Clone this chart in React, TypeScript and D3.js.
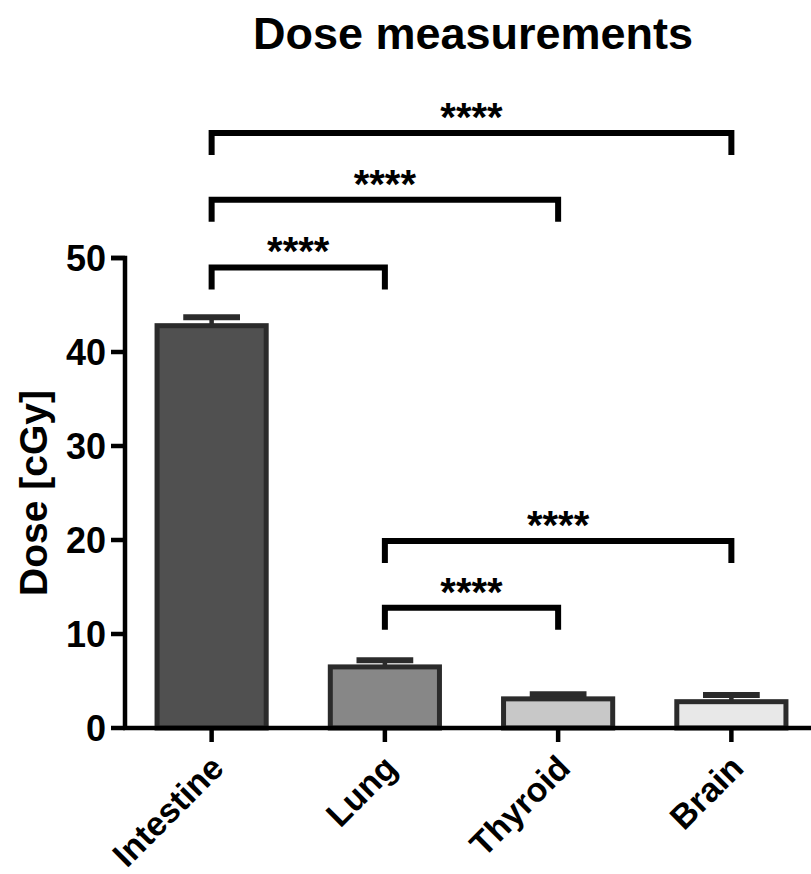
import React from 'react';
import * as d3 from 'd3';

// groups and measured values (mean + SD, cGy)
const categories = ['Intestine', 'Lung', 'Thyroid', 'Brain'];
const means = [42.8, 6.5, 3.1, 2.8];
const sds = [0.9, 0.7, 0.5, 0.7];
const yTicks = [0, 10, 20, 30, 40, 50];

// significance brackets: [from, to, level in cGy, label]
const comparisons: [string, string, number, string][] = [
  ['Intestine', 'Brain', 63.3, '****'],
  ['Intestine', 'Thyroid', 56.2, '****'],
  ['Intestine', 'Lung', 49.0, '****'],
  ['Lung', 'Brain', 19.9, '****'],
  ['Lung', 'Thyroid', 12.8, '****'],
];

const FILLS = ['#505050', '#878787', '#c8c8c8', '#e8e8e8'];
const FONT = "'Liberation Sans', Arial, Helvetica, sans-serif";

const width = 811,
  height = 874;
const MARGIN = { top: 258, left: 125, bottom: 146 };

export default function App() {
  const x = d3
    .scaleBand()
    .domain(categories)
    .range([MARGIN.left, MARGIN.left + 693])
    .paddingInner(0.37)
    .paddingOuter(0.185);
  const y = d3
    .scaleLinear()
    .domain([0, 50])
    .range([height - MARGIN.bottom, MARGIN.top]);

  const bw = x.bandwidth();
  const cx = (c: string) => (x(c) ?? 0) + bw / 2;
  const y0 = y(0);

  const errorBars = categories.map((c, i) => (
    <g key={'e' + c}>
      <line x1={cx(c)} x2={cx(c)} y1={y(means[i])} y2={y(means[i] + sds[i])} stroke="#2b2b2b" strokeWidth={4.5} />
      <line
        x1={cx(c) - bw * 0.26}
        x2={cx(c) + bw * 0.26}
        y1={y(means[i] + sds[i])}
        y2={y(means[i] + sds[i])}
        stroke="#2b2b2b"
        strokeWidth={6}
      />
    </g>
  ));

  const bars = categories.map((c, i) => (
    <rect
      key={'b' + c}
      x={x(c)}
      y={y(means[i])}
      width={bw}
      height={y0 - y(means[i])}
      fill={FILLS[i]}
      stroke="#2b2b2b"
      strokeWidth={5}
    />
  ));

  const brackets = comparisons.map(([a, b, level, label], i) => {
    const yl = y(level);
    const x1 = cx(a),
      x2 = cx(b);
    return (
      <g key={'s' + i}>
        <path
          d={`M${x1},${yl + 22}V${yl}H${x2}V${yl + 22}`}
          fill="none"
          stroke="#000"
          strokeWidth={6}
          strokeLinejoin="miter"
        />
        <text x={(x1 + x2) / 2} y={yl - 2} textAnchor="middle" fontSize={40} fontWeight="bold" fontFamily={FONT}>
          {label}
        </text>
      </g>
    );
  });

  return (
    <div style={{ position: 'absolute', left: 0, top: 0 }}>
      <svg width={width} height={height} style={{ display: 'block', background: '#fff' }}>
        <text x={473} y={49} textAnchor="middle" fontSize={45} fontWeight="bold" fontFamily={FONT}>
          Dose measurements
        </text>

        {errorBars}
        {bars}

        {/* y axis */}
        <path
          d={`M${MARGIN.left - 14},${y(50)}H${MARGIN.left}V${y0}`}
          fill="none"
          stroke="#000"
          strokeWidth={4.5}
        />
        {yTicks.map(t => (
          <g key={'yt' + t}>
            <line x1={MARGIN.left - 14} x2={MARGIN.left} y1={y(t)} y2={y(t)} stroke="#000" strokeWidth={4.5} />
            <text
              x={MARGIN.left - 19}
              y={y(t)}
              dy="0.36em"
              textAnchor="end"
              fontSize={36}
              fontWeight="bold"
              fontFamily={FONT}
            >
              {t}
            </text>
          </g>
        ))}
        <text
          transform={`translate(47,${(y(0) + y(50)) / 2}) rotate(-90)`}
          textAnchor="middle"
          fontSize={39}
          fontWeight="bold"
          fontFamily={FONT}
        >
          Dose [cGy]
        </text>

        {/* x axis */}
        <line x1={MARGIN.left - 2} x2={MARGIN.left + 693} y1={y0} y2={y0} stroke="#000" strokeWidth={4.5} />
        {categories.map(c => (
          <g key={'xt' + c}>
            <line x1={cx(c)} x2={cx(c)} y1={y0} y2={y0 + 14} stroke="#000" strokeWidth={4.5} />
            <text
              transform={`translate(${cx(c) + 14},${y0 + 42}) rotate(-45)`}
              textAnchor="end"
              fontSize={34}
              fontWeight="bold"
              fontFamily={FONT}
            >
              {c}
            </text>
          </g>
        ))}

        {brackets}
      </svg>
    </div>
  );
}
